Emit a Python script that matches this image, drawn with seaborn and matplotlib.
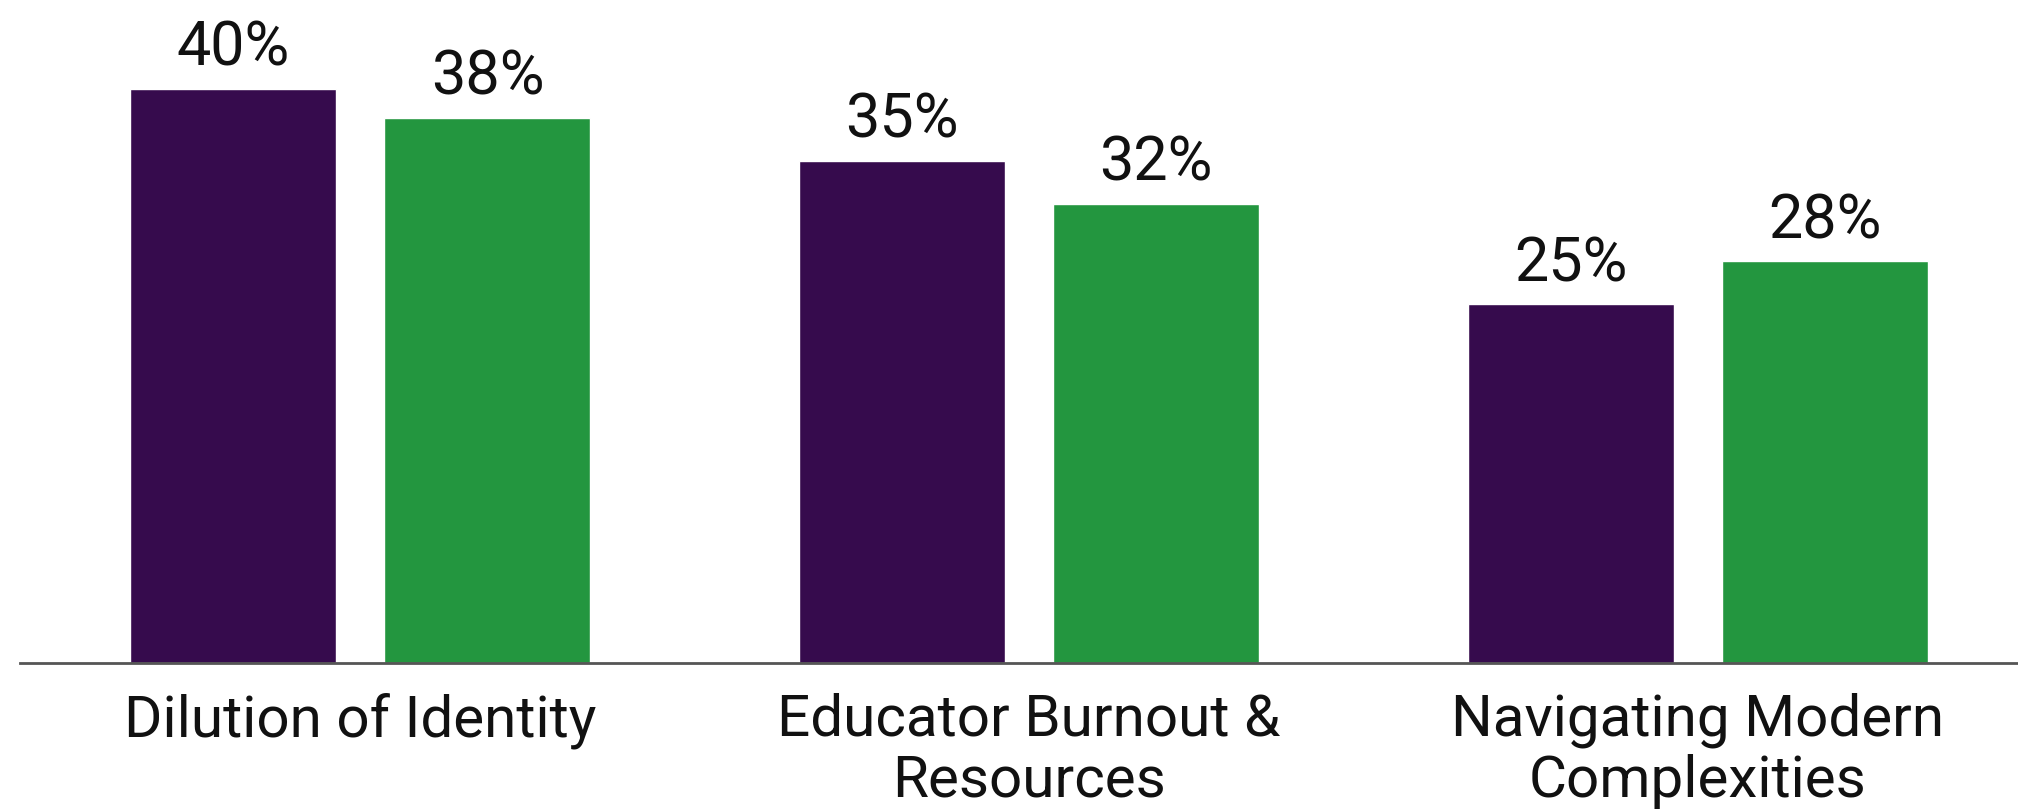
import pandas as pd
import seaborn as sns
import matplotlib.pyplot as plt

# values
categories = ["Dilution of Identity", "Educator Burnout & Resources", "Navigating Modern Complexities"]
tick_labels = ["Dilution of Identity", "Educator Burnout &\nResources", "Navigating Modern\nComplexities"]
series_names = ["Series A", "Series B"]
series_a = [40, 35, 25]
series_b = [38, 32, 28]

colors = ["#360b4d", "#23963f"]

df = pd.DataFrame({
    "category": categories * 2,
    "series": [series_names[0]] * 3 + [series_names[1]] * 3,
    "value": series_a + series_b,
})

sns.set_style("white")
plt.rcParams["font.family"] = ["Roboto", "DejaVu Sans"]

fig = plt.figure(figsize=(20.18, 8.1), dpi=100)
ax = fig.add_axes([0.0099, 0.1815, 0.9901, 0.8185])

sns.barplot(data=df, x="category", y="value", hue="series", palette=colors,
            width=0.76, gap=0.19, legend=False, saturation=1, ax=ax)

for cont in ax.containers:
    ax.bar_label(cont, labels=[f"{v:.0f}%" for v in cont.datavalues],
                 padding=8, fontsize=44, color="#111111")

ax.set_xlim(-0.509, 2.479)
ax.set_ylim(0, 46.2)
ax.set_xticks(range(len(tick_labels)))
ax.set_xticklabels(tick_labels, fontsize=42, color="#111111", linespacing=1.15)
ax.tick_params(axis="x", length=0, pad=21)
ax.set_yticks([])
ax.set_xlabel("")
ax.set_ylabel("")
for s in ["top", "right", "left"]:
    ax.spines[s].set_visible(False)
ax.spines["bottom"].set_color("#555555")
ax.spines["bottom"].set_linewidth(2)

fig.savefig("out.png", dpi=100)
